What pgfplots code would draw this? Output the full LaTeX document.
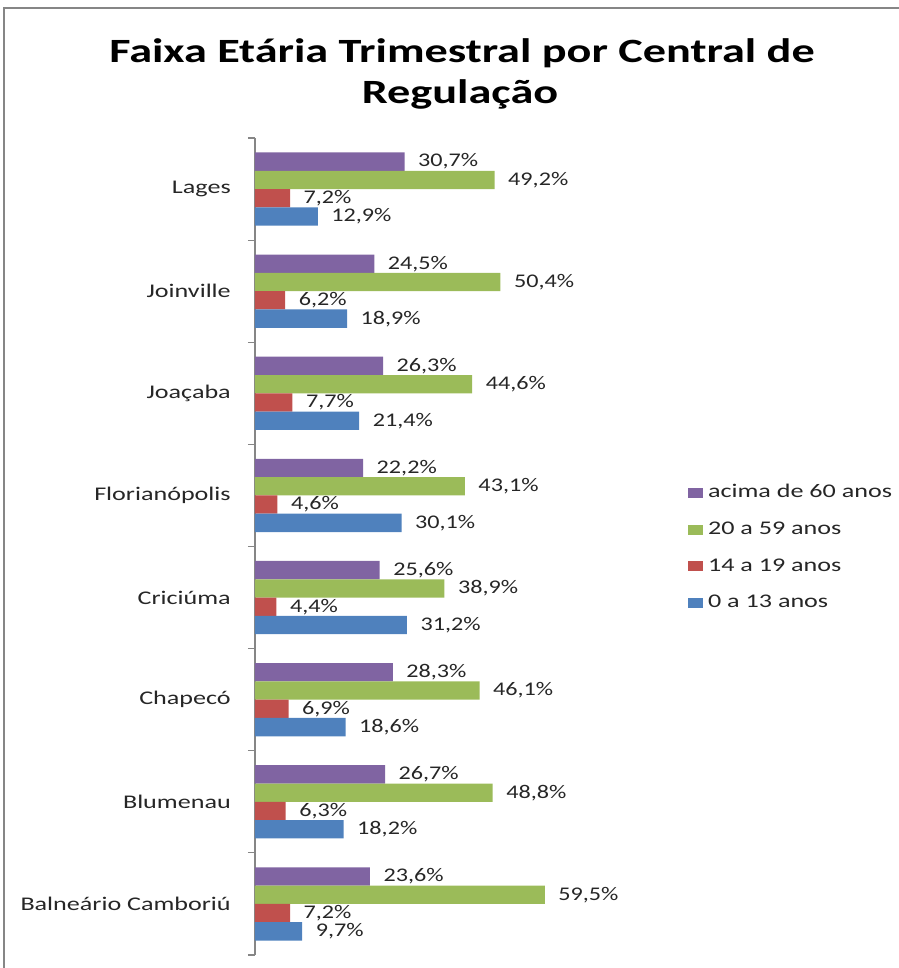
\documentclass[border=0pt]{standalone}
\usepackage{fontspec}
\usepackage{pgfplots}
\pgfplotsset{compat=1.18}
\newfontfamily\lab[FakeStretch=1.25]{Carlito}
\newfontfamily\catf[FakeStretch=1.35]{Carlito}
\newfontfamily\ttl[FakeStretch=1.36]{Carlito}
\newcommand\labfont{\lab\fontsize{14.5}{17.4}\selectfont}
\newcommand\catfont{\catf\fontsize{14.5}{17.4}\selectfont}
\definecolor{cpurple}{HTML}{8064A2}
\definecolor{cgreen}{HTML}{9BBB59}
\definecolor{cred}{HTML}{C0504D}
\definecolor{cblue}{HTML}{4F81BD}
\definecolor{cgray}{HTML}{868686}
\begin{document}
\begin{tikzpicture}[x=0.75pt,y=0.75pt]
\path[use as bounding box] (0,0) rectangle (899,968);
\draw[cgray, line width=1.5pt] (4,-5) -- (4,960) -- (905,960);
\node[font=\ttl\bfseries\fontsize{25.5}{30}\selectfont] at (462,915) {Faixa Etária Trimestral por Central de};
\node[font=\ttl\bfseries\fontsize{25.5}{30}\selectfont] at (460,874) {Regulação};
\begin{axis}[
  at={(191.25pt,9.75pt)}, anchor=south west,
  scale only axis, width=292.2pt, height=612.75pt,
  xmin=0, xmax=80, ymin=-0.5, ymax=7.5,
  xbar, bar width=13.725pt,
  clip=false,
  axis x line=none,
  axis y line*=left,
  y axis line style={cgray, line width=0.8pt},
  xtick=\empty,
  ytick={0,...,7},
  yticklabels={Balneário Camboriú, Blumenau, Chapecó, Criciúma, Florianópolis, Joaçaba, Joinville, Lages},
  minor ytick={-0.5,0.5,...,7.5},
  major tick length=0pt,
  minor tick length=5.25pt,
  tick align=outside,
  minor tick style={cgray, line width=0.8pt},
  yticklabel style={font=\catfont, inner sep=0pt, xshift=-18pt, text=black!85},
  nodes near coords={\pgfmathprintnumber[fixed,fixed zerofill,precision=1,use comma,assume math mode=true]{\pgfplotspointmeta}\%},
  nodes near coords style={font=\labfont, anchor=west, inner sep=0pt, xshift=10pt, text=black!85},
  legend style={at={(1.111,0.498)}, anchor=west, draw=none, font=\catfont, inner sep=0pt,
    nodes={inner sep=0pt, text height=10pt, text depth=3pt, text=black!85}, row sep=14.5pt,
    /tikz/every odd column/.append style={column sep=4pt}},
  legend cell align=left,
  legend image code/.code={\fill[#1] (0pt,-3.75pt) rectangle (11pt,3.75pt);},
]
\addplot[fill=cpurple, draw=none, bar shift=20.59pt] coordinates {(23.6,0) (26.7,1) (28.3,2) (25.6,3) (22.2,4) (26.3,5) (24.5,6) (30.7,7)};
\addplot[fill=cgreen, draw=none, bar shift=6.86pt] coordinates {(59.5,0) (48.8,1) (46.1,2) (38.9,3) (43.1,4) (44.6,5) (50.4,6) (49.2,7)};
\addplot[fill=cred, draw=none, bar shift=-6.86pt] coordinates {(7.2,0) (6.3,1) (6.9,2) (4.4,3) (4.6,4) (7.7,5) (6.2,6) (7.2,7)};
\addplot[fill=cblue, draw=none, bar shift=-20.59pt] coordinates {(9.7,0) (18.2,1) (18.6,2) (31.2,3) (30.1,4) (21.4,5) (18.9,6) (12.9,7)};
\legend{acima de 60 anos, 20 a 59 anos, 14 a 19 anos, 0 a 13 anos}
\end{axis}
\end{tikzpicture}
\end{document}
